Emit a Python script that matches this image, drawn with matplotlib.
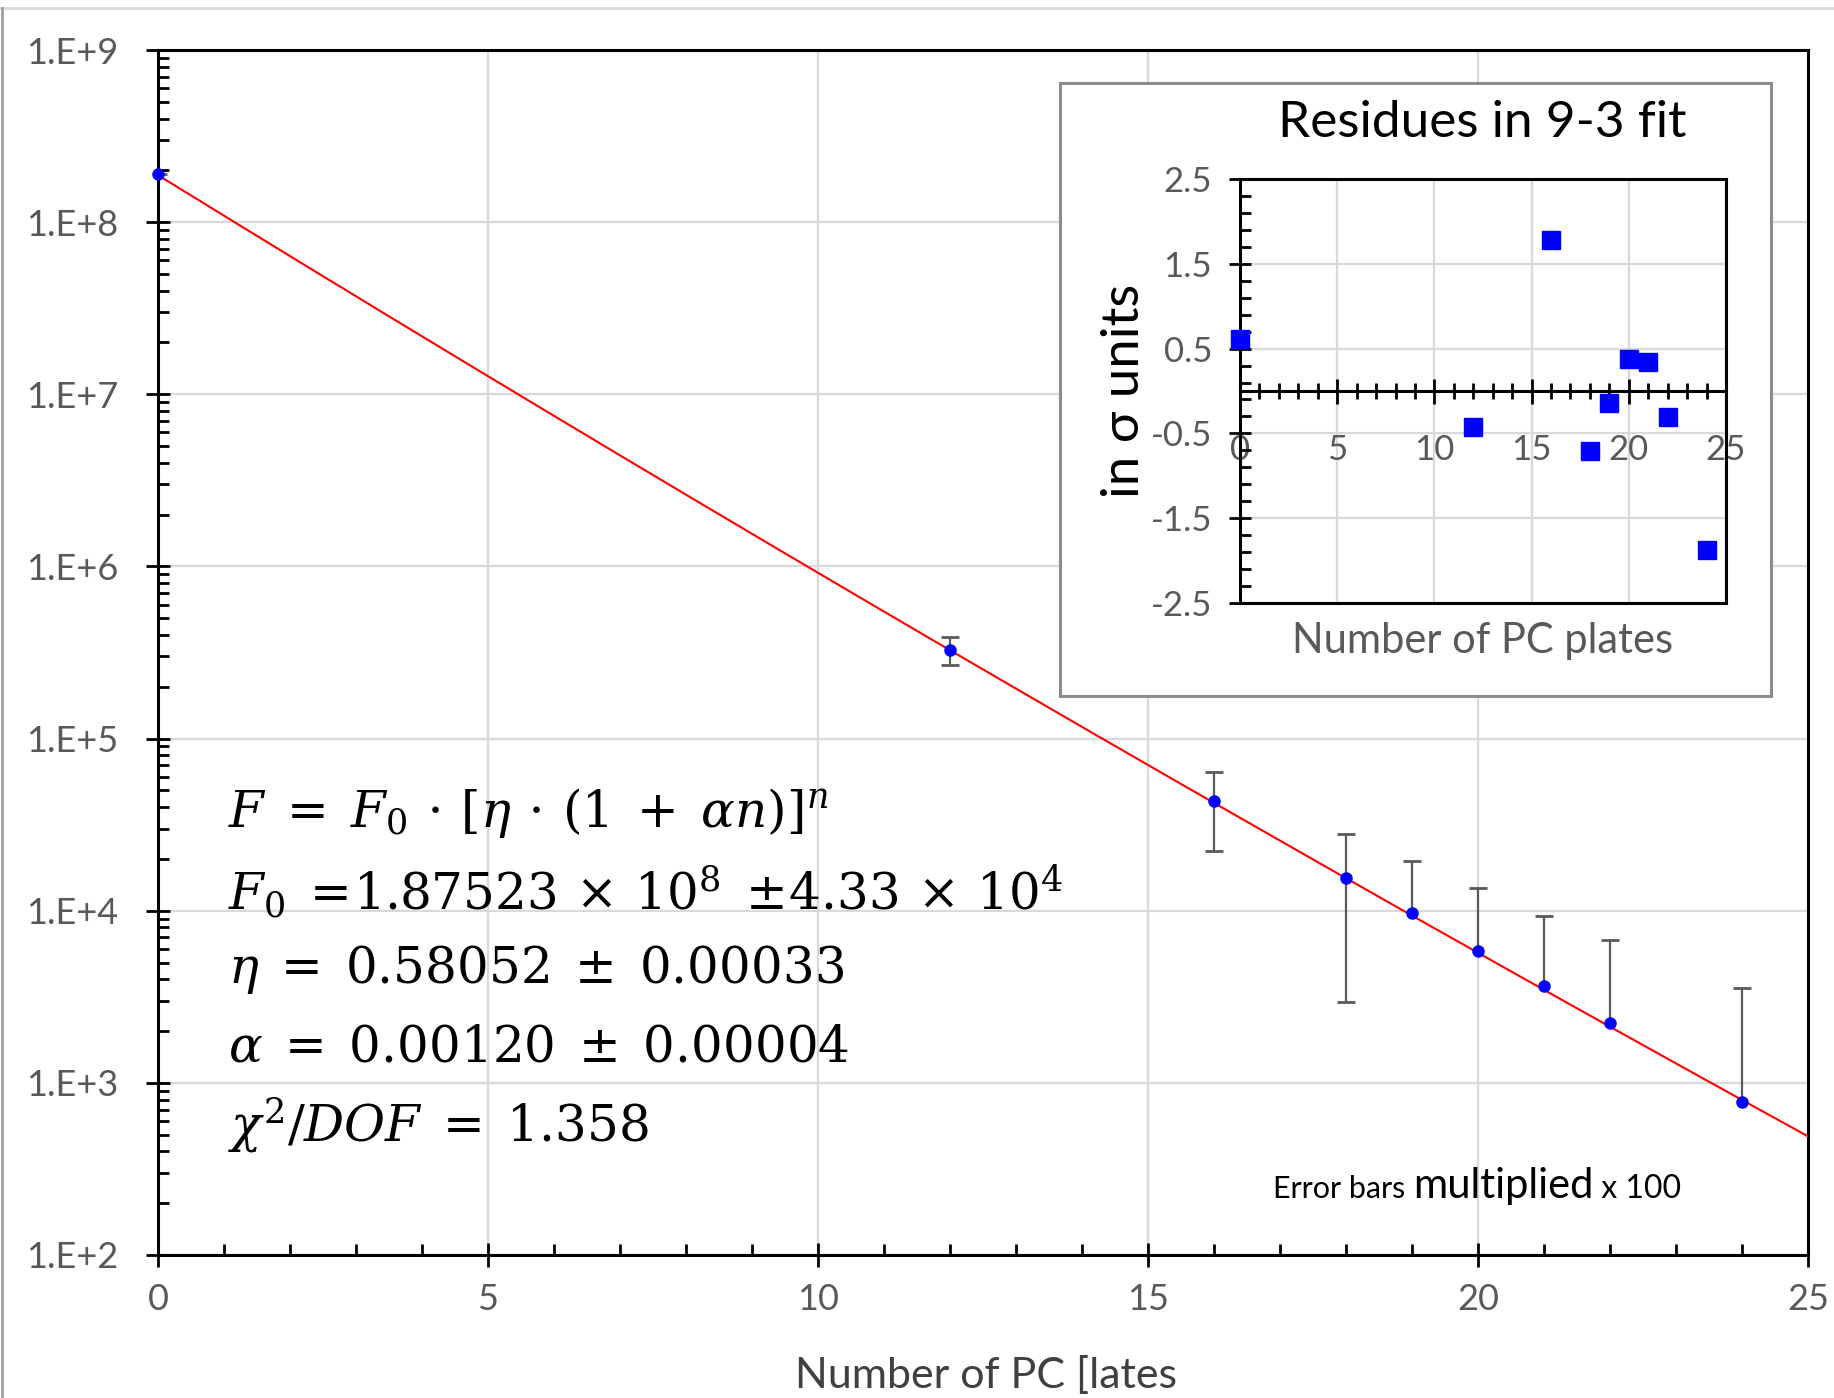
import numpy as np
import matplotlib
matplotlib.use("Agg")
import matplotlib.pyplot as plt
from matplotlib.patches import Rectangle
from matplotlib.ticker import FixedLocator, LogLocator, NullFormatter
from matplotlib.lines import Line2D

plt.rcParams["font.family"] = ["Lato", "DejaVu Sans"]
plt.rcParams["mathtext.fontset"] = "dejavuserif"

# ---- data
plates = [0, 12, 16, 18, 19, 20, 21, 22, 24]
flux = [1.90e8, 3.27e5, 4.31e4, 1.545e4, 9.66e3, 5.83e3, 3.66e3, 2.22e3, 7.76e2]
flux_err = [0, 6.0e4, 2.08e4, 1.25e4, 9.7e3, 7.7e3, 5.7e3, 4.5e3, 2.8e3]   # x100 already

# fit parameters printed on the chart
F0 = 1.87523e8
eta = 0.58052
alpha = 0.00120

res_x = [0, 12, 16, 18, 19, 20, 21, 22, 24]
res_y = [0.61, -0.43, 1.78, -0.71, -0.14, 0.38, 0.34, -0.31, -1.88]

ytick_vals = [1e2, 1e3, 1e4, 1e5, 1e6, 1e7, 1e8, 1e9]
ytick_labels = ["1.E+2", "1.E+3", "1.E+4", "1.E+5", "1.E+6", "1.E+7", "1.E+8", "1.E+9"]
xtick_vals = [0, 5, 10, 15, 20, 25]
res_yticks = [-2.5, -1.5, -0.5, 0.5, 1.5, 2.5]

fit_lines = [
    r"$F\;=\;F_0\,\cdot\,[\eta\,\cdot\,(1\;+\;\alpha n)]^n$",
    r"$F_0\;=\!1.87523\,\times\,10^8\;\pm\!4.33\,\times\,10^4$",
    r"$\eta\;=\;0.58052\;\pm\;0.00033$",
    r"$\alpha\;=\;0.00120\;\pm\;0.00004$",
    r"$\chi^2/DOF\;=\;1.358$",
]

W, H = 1834, 1398
fig = plt.figure(figsize=(W / 100, H / 100), dpi=100)
GRAY = "#595959"
GRID = "#d9d9d9"

# outer frame lines of the excel chart area
fig.add_artist(Line2D([0, 1], [1 - 8 / H, 1 - 8 / H], color=GRID, lw=2))
fig.add_artist(Line2D([1.5 / W, 1.5 / W], [0, 1 - 8 / H], color="#a0a0a0", lw=2))

# ---- main plot
ax = fig.add_axes([158 / W, (H - 1255) / H, 1650 / W, 1205 / H])
ax.set_yscale("log")
ax.set_xlim(0, 25)
ax.set_ylim(1e2, 1e9)

n = np.linspace(0, 25, 300)
ax.plot(n, F0 * (eta * (1 + alpha * n)) ** n, color="red", lw=1.5, zorder=3)

y = np.array(flux)
e = np.array(flux_err)
lo = np.where(y - e > 0, e, 0)
ax.errorbar(plates, flux, yerr=[lo, e], fmt="none", ecolor=GRAY, elinewidth=1.6,
            capsize=0, zorder=2)
ax.plot(plates, y + e, ls="none", marker="_", ms=13, mew=2, color=GRAY, zorder=2)
keep = (lo > 0)
ax.plot(np.array(plates)[keep], (y - lo)[keep], ls="none", marker="_", ms=13, mew=2,
        color=GRAY, zorder=2)
ax.plot(plates, flux, ls="none", marker="o", ms=8, color="#0000ff", zorder=4, clip_on=False)

ax.set_yticks(ytick_vals)
ax.set_yticklabels(ytick_labels)
ax.yaxis.set_minor_locator(LogLocator(base=10, subs=np.arange(2, 10)))
ax.yaxis.set_minor_formatter(NullFormatter())
ax.set_xticks(xtick_vals)
ax.xaxis.set_minor_locator(FixedLocator(np.arange(0, 26, 1)))
ax.grid(True, which="major", color=GRID, lw=1.6)
ax.set_axisbelow(True)
for s in ax.spines.values():
    s.set_linewidth(2.2)
    s.set_color("black")
ax.tick_params(which="major", direction="inout", length=17, width=2, colors="black",
               labelcolor=GRAY, labelsize=26, pad=20)
ax.tick_params(which="minor", direction="in", length=8, width=2, colors="black")
ax.tick_params(axis="x", which="major", pad=12)

fig.text(0.5375, 3 / H, "Number of PC [lates", fontsize=31, color="#404040",
         ha="center", va="bottom")

for i, t in enumerate(fit_lines):
    fig.text(228 / W, 1 - (813 + i * 78) / H, t, fontsize=36, ha="left", va="center",
             color="black")

t1 = fig.text(1273 / W, 1 - 1198 / H, "Error bars ", fontsize=22, color="black",
              ha="left", va="baseline")
t2 = fig.text(0, 0, "multiplied", fontsize=30, color="black", va="baseline")
t3 = fig.text(0, 0, " x 100", fontsize=23, color="black", va="baseline")
fig.canvas.draw()
r = fig.canvas.get_renderer()
bb = t1.get_window_extent(r)
t2.set_position((bb.x1 / W, t1.get_position()[1]))
bb = t2.get_window_extent(r)
t3.set_position((bb.x1 / W, t1.get_position()[1]))

# ---- inset box
fig.add_artist(Rectangle((1060 / W, (H - 696) / H), 711 / W, 613 / H, transform=fig.transFigure,
                         facecolor="white", edgecolor="#8c8c8c", lw=2.2, zorder=1))
fig.text(1482 / W, 1 - 123 / H, "Residues in 9-3 fit", fontsize=37, color="black",
         ha="center", va="center", zorder=3)

ax2 = fig.add_axes([1240 / W, (H - 603) / H, 486 / W, 424 / H], zorder=2)
ax2.set_xlim(0, 25)
ax2.set_ylim(-2.5, 2.5)
ax2.plot(res_x, res_y, ls="none", marker="s", ms=13, color="#0000ff", clip_on=False, zorder=4)
ax2.set_xticks(xtick_vals)
ax2.xaxis.set_minor_locator(FixedLocator(np.arange(0, 26, 1)))
ax2.set_yticks(res_yticks)
ax2.set_yticklabels(["-2.5", "-1.5", "-0.5", "0.5", "1.5", "2.5"])
ax2.yaxis.set_minor_locator(FixedLocator(np.arange(-2.5, 2.51, 0.2)))
ax2.grid(True, which="major", color=GRID, lw=1.6)
ax2.set_axisbelow(True)
for s in ax2.spines.values():
    s.set_linewidth(2.2)
    s.set_color("black")
ax2.spines["bottom"].set_position(("data", 0))
ax2.axhline(-2.5, color="black", lw=2.2, clip_on=False, zorder=3)
ax2.tick_params(axis="x", which="major", direction="inout", length=18, width=2,
                labelcolor=GRAY, labelsize=25, pad=22)
ax2.tick_params(axis="x", which="minor", direction="inout", length=11, width=2)
ax2.tick_params(axis="y", which="major", direction="inout", length=16, width=2,
                labelcolor=GRAY, labelsize=25, pad=12)
ax2.tick_params(axis="y", which="minor", direction="in", length=8, width=2)
ax2.set_ylabel("in σ units", fontsize=38, color="black", labelpad=2)
ax2.text(0.5, -0.09, "Number of PC plates", transform=ax2.transAxes, fontsize=30,
         color=GRAY, ha="center", va="center")

fig.savefig("out.png", dpi=100)
